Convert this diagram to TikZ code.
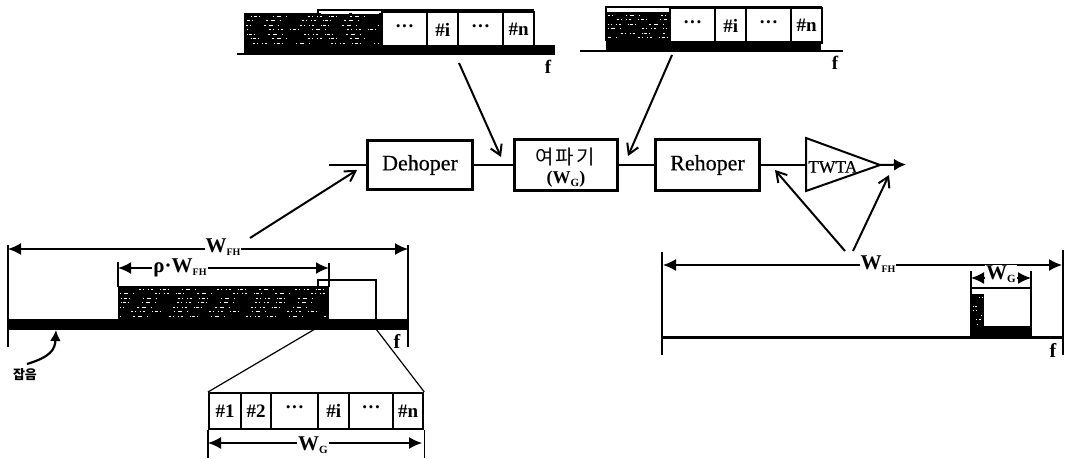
\documentclass[tikz,border=0pt]{standalone}
\usepackage{fontspec}
\setmainfont{Liberation Serif}
\newfontfamily\heavy[FakeBold=0.35]{Liberation Serif}
\newfontfamily\krfont{Noto Sans CJK KR}
\usetikzlibrary{arrows.meta}
\pgfmathsetseed{7}
\newcommand{\lblsub}[3]{#1\raisebox{-3pt}{\fontsize{#3}{#3}\selectfont #2}}
\newcommand{\speckle}[4]{% x0 y0 x1 y1: black block with scan-like white flecks
  \fill[black] (#1,#2) rectangle (#3,#4);
  \pgfmathsetmacro{\ystart}{#2+3}
  \pgfmathsetmacro{\ynext}{#2+7.5}
  \pgfmathsetmacro{\yend}{#4-3}
  \foreach \yy in {\ystart,\ynext,...,\yend}{
    \pgfmathsetmacro{\ph}{rnd*97}
    \draw[white,line width=0.55pt,dash pattern=on 1pt off 2pt on 2pt off 7pt on 0.8pt off 1.6pt on 3pt off 2pt on 1pt off 13pt on 1.5pt off 3pt on 4pt off 5pt on 1pt off 21pt on 2pt off 2pt on 1pt off 4pt,dash phase=\ph pt]
      ({#1+2},\yy) -- ({#3-2},\yy);
  }
}
\tikzset{
  blk/.style={draw,line width=2.3pt,inner sep=0pt,font=\heavy\fontsize{22}{24}\selectfont},
  cell/.style={draw,line width=2.3pt,fill=white,inner sep=0pt,anchor=north west,font=\fontsize{19}{19}\selectfont\bfseries},
  wire/.style={line width=2pt},
  pointer/.style={line width=2pt,-{Straight Barb[length=10pt,width=12pt,line width=2pt]}},
  dim/.style={line width=1.5pt,{Latex[length=13pt,width=12pt]}-{Latex[length=13pt,width=12pt]}},
  tick/.style={line width=2pt},
  thin zoom/.style={line width=1.2pt},
  lab/.style={inner sep=1pt,fill=white,font=\fontsize{21}{21}\selectfont\bfseries},
  flab/.style={inner sep=0pt,font=\fontsize{19}{19}\selectfont\bfseries},
}
\newcommand{\dotsx}{{\fontsize{19}{19}\selectfont\raisebox{3pt}{···}}}
\begin{document}
\begin{tikzpicture}[x=1pt,y=-1pt]
\useasboundingbox (0,0) rectangle (1067,458);

% ---- top-left spectrum
\fill (244,45) rectangle (555,54);
\draw[tick] (237,53.5) -- (555,53.5);
\speckle{244}{13}{381}{46}
\draw[line width=2pt] (318,13) -- (318,10) -- (533,10) -- (533,46);
\draw[white,line width=1.2pt] (321,13) -- (349,13) (352,13) -- (379,13);
\foreach \xa/\w/\t/\nm in {381/45/\dotsx/a,426/31/\#i/b,457/45/\dotsx/c,502/31/\#n/d}{
  \node[cell,minimum width=\w pt,minimum height=35pt] (tl\nm) at (\xa,11) {\t};
}
\fill (381,45) rectangle (533,54);
\node[flab] (ftl) at (548,67) {f};

% ---- top-right spectrum
\fill (606,41) rectangle (821,52);
\draw[tick] (580,51) -- (843,51);
\speckle{606}{12}{669}{42}
\draw[line width=2pt] (606,41) -- (606,7) -- (821,7) -- (821,41);
\draw[white,line width=1.2pt] (609,10) -- (637,10) (640,10) -- (667,10);
\foreach \xa/\w/\t/\nm in {669/45/\dotsx/a,714/31/\#i/b,745/45/\dotsx/c,790/31/\#n/d}{
  \node[cell,minimum width=\w pt,minimum height=35pt] (tr\nm) at (\xa,7) {\t};
}
\fill (669,41) rectangle (821,52);
\node[flab] (ftr) at (835,63) {f};

% ---- block chain
\coordinate (in) at (329,165);
\node[blk,minimum width=105pt,minimum height=49pt] (deh) at (420,165) {Dehoper};
\node[blk,minimum width=103pt,minimum height=51pt,align=center] (flt) at (566,165) {};
\node[inner sep=0pt,font=\krfont\fontsize{20}{20}\selectfont] (fltk) at (565,157) {여\hspace{2pt}파\hspace{2pt}기};
\node[inner sep=0pt,font=\fontsize{18}{18}\selectfont\bfseries] (fltw) at (566,179) {(\lblsub{W}{G}{11})};
\node[blk,minimum width=104pt,minimum height=51pt] (reh) at (707.5,165) {Rehoper};
\coordinate (ta) at (806,138);
\coordinate (tb) at (806,191);
\coordinate (tc) at (880,165);
\draw[line width=2pt,line join=miter] (ta) -- (tc) -- (tb) -- cycle;
\node[inner sep=0pt,anchor=west,font=\heavy\fontsize{17.5}{17.5}\selectfont] (twta) at (808,167) {TWTA};
\coordinate (out) at (906,164.5);
\draw[wire] (in) -- (deh.west);
\draw[wire] (deh.east) -- (flt.west);
\draw[wire] (flt.east) -- (reh.west);
\draw[wire] (reh.east) -- (806,165);
\draw[wire,-{Latex[length=12pt,width=12pt]}] (tc) -- (out);

% ---- bottom-left spectrum
\coordinate (la) at (8,245);
\coordinate (lb) at (8,347);
\coordinate (ra) at (408,245);
\coordinate (rb) at (408,347);
\draw[tick] (la) -- (lb);
\draw[tick] (ra) -- (rb);
\fill (8,319) rectangle (408,330);
\speckle{118}{286}{329}{320}
\draw[tick] (318,286) -- (318,280) -- (376,280) -- (376,320);
\draw[tick] (118,262) -- (118,287);
\draw[tick] (329,263) -- (329,287);
\coordinate (d1a) at (8,249);
\coordinate (d1b) at (408,249);
\draw[dim] (d1a) -- (d1b);
\node[lab] (wfh1) at (223,247) {\lblsub{W}{FH}{10}};
\coordinate (d2a) at (118,268);
\coordinate (d2b) at (329,268);
\draw[dim,line width=2pt] (d2a) -- (d2b);
\node[lab] (rwfh) at (180,268) {ρ·\lblsub{W}{FH}{10}};
\node[flab,font=\fontsize{20}{20}\selectfont\bfseries] (fbl) at (397,341) {f};
\node[inner sep=0pt,font=\krfont\fontsize{13}{13}\selectfont\bfseries] (noise) at (25,375) {잡음};
\coordinate (nstart) at (27,364);
\coordinate (ntip) at (56,330);
\draw[line width=2.2pt,-{Latex[length=11pt,width=11pt]}] (nstart) .. controls (50,357) and (55,350) .. (ntip);

% ---- enlarged channel row
\foreach \xa/\w/\t/\nm in {208/32/\#1/a,240/30/\#2/b,270/47/\dotsx/c,317/31/\#i/d,348/44/\dotsx/e,392/30/\#n/f}{
  \node[cell,minimum width=\w pt,minimum height=36pt] (bc\nm) at (\xa,392) {\t};
}
\coordinate (z1) at (315,329);
\coordinate (z2) at (376,329);
\draw[thin zoom] (z1) -- (bca.north west);
\draw[thin zoom] (z2) -- (bcf.north east);
\draw[tick,line width=1.2pt] (bca.south west) -- (bca.south west |- 0,458);
\draw[tick,line width=1.2pt] (bcf.south east) -- (bcf.south east |- 0,458);
\coordinate (d3a) at (208,443);
\coordinate (d3b) at (422,443);
\draw[dim] (d3a) -- (d3b);
\node[lab] (wg1) at (313,445) {\lblsub{W}{G}{11}};

% ---- bottom-right spectrum
\coordinate (pa) at (662,252);
\coordinate (pb) at (662,355);
\coordinate (qa) at (1063,250);
\coordinate (qb) at (1063,355);
\draw[tick] (pa) -- (pb);
\draw[tick] (qa) -- (qb);
\draw[line width=2.6pt] (662,337.5) -- (1063,337.5);
\draw[line width=2.2pt] (971,337) -- (971,288) -- (1031,288) -- (1031,337);
\fill (971,326) rectangle (1031,338);
\speckle{971}{294}{984}{327}
\coordinate (d4a) at (663,265);
\coordinate (d4b) at (1062,265);
\draw[dim] (d4a) -- (d4b);
\node[lab] (wfh2) at (878,264) {\lblsub{W}{FH}{10}};
\draw[tick,line width=1.2pt] (971,271) -- (971,288);
\draw[tick,line width=1.2pt] (1031,271) -- (1031,288);
\coordinate (d5a) at (971,278);
\coordinate (d5b) at (1031,278);
\draw[dim] (d5a) -- (d5b);
\node[lab] (wg2) at (1001,274) {\lblsub{W}{G}{11}};
\node[flab,font=\fontsize{20}{20}\selectfont\bfseries] (fbr) at (1053,350) {f};

% ---- pointers
\coordinate (p1s) at (459,63);  \coordinate (p1e) at (501,157);
\coordinate (p2s) at (672,55);  \coordinate (p2e) at (628,156);
\coordinate (p3s) at (250,238); \coordinate (p3e) at (357,170);
\coordinate (p4s) at (845,251); \coordinate (p4e) at (775,170);
\coordinate (p5s) at (853,251); \coordinate (p5e) at (889,175);
\draw[pointer] (p1s) -- (p1e);
\draw[pointer] (p2s) -- (p2e);
\draw[pointer] (p3s) -- (p3e);
\draw[pointer] (p4s) -- (p4e);
\draw[pointer] (p5s) -- (p5e);
\end{tikzpicture}
\end{document}
